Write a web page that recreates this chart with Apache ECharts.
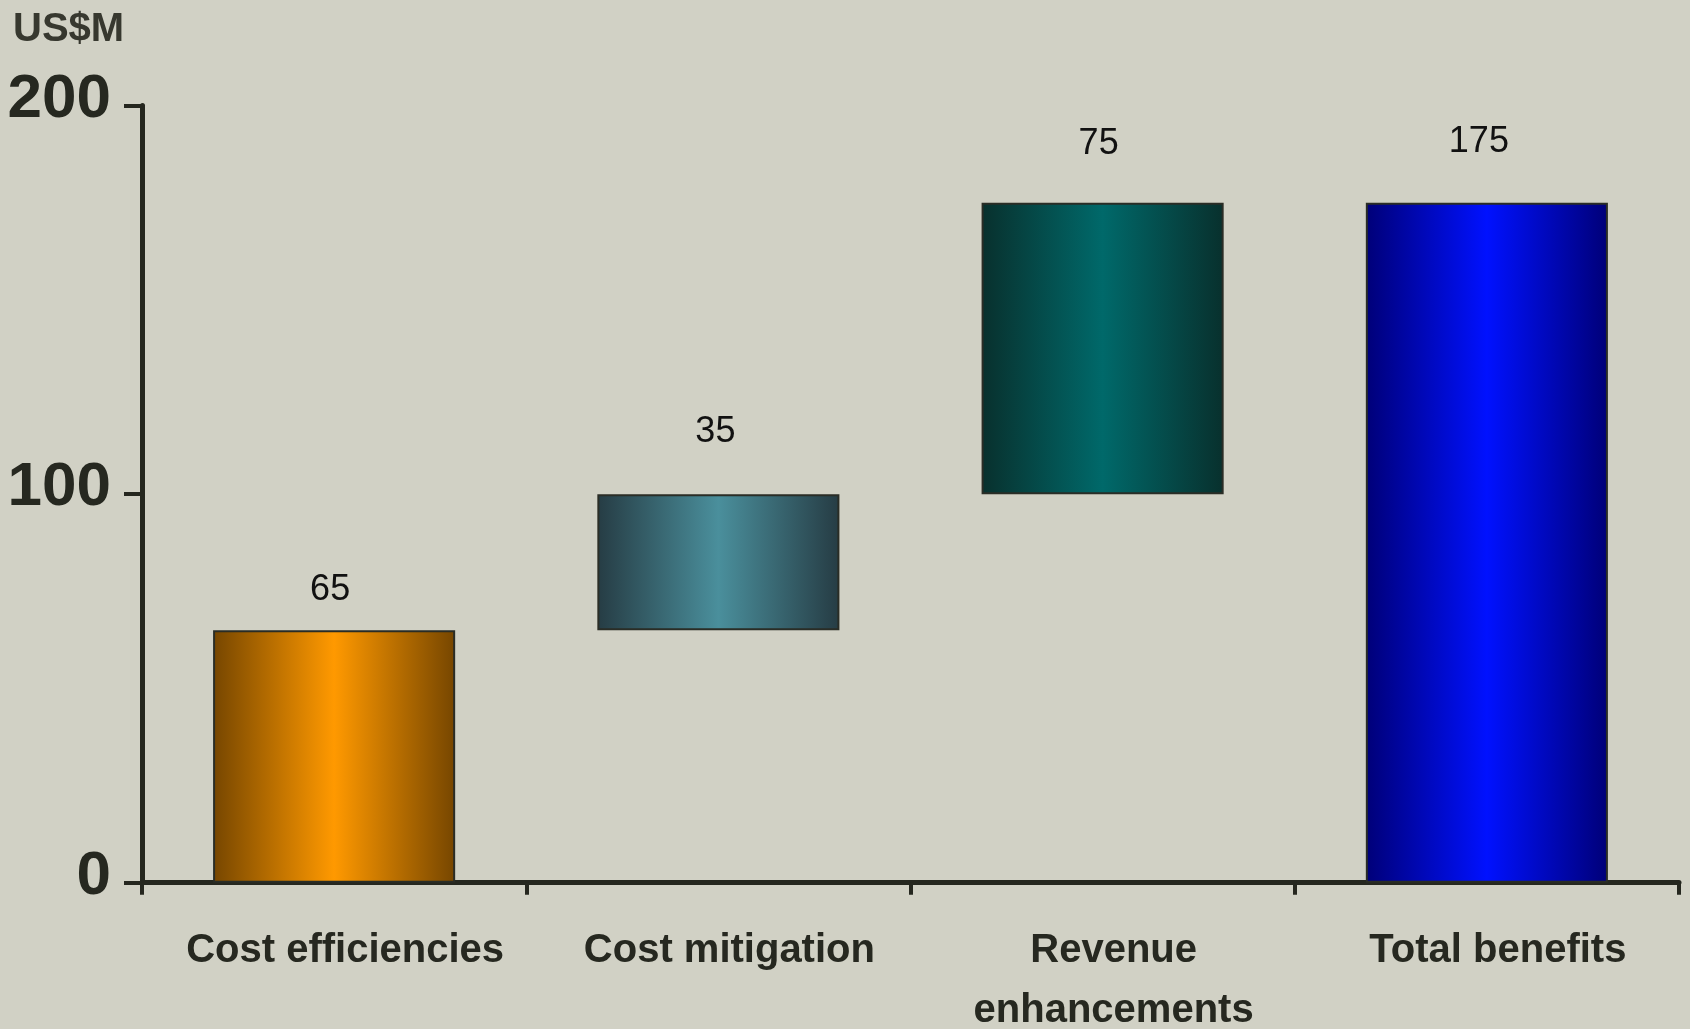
<!DOCTYPE html>
<html>
<head>
<meta charset="utf-8">
<script src="https://cdn.jsdelivr.net/npm/echarts@6/dist/echarts.min.js"></script>
<style>
html,body{margin:0;padding:0;background:#d1d1c5;}
#c{width:1690px;height:1029px;}
</style>
</head>
<body>
<div id="c"></div>
<script>
const categories = ['Cost efficiencies', 'Cost mitigation', 'Revenue\nenhancements', 'Total benefits'];
const baseValues = [0, 65, 100, 0];
const deltaValues = [65, 35, 75, 175];
const yTicks = [0, 100, 200];
const barGradients = [
  ['#764600', '#ff9900'],
  ['#263c44', '#4a8f9c'],
  ['#08302d', '#00696a'],
  ['#000078', '#0011ff']
];
const labelDistances = [22, 44, 41, 43];
const labelShifts = [-4, -3, -4, -8];

const FONT = '"Liberation Sans", Arial, sans-serif';

function grad(c) {
  return {
    type: 'linear', x: 0, y: 0, x2: 1, y2: 0,
    colorStops: [
      { offset: 0, color: c[0] },
      { offset: 0.5, color: c[1] },
      { offset: 1, color: c[0] }
    ]
  };
}

const chart = echarts.init(document.getElementById('c'), null, { renderer: 'canvas' });
chart.setOption({
  backgroundColor: '#d1d1c5',
  animation: false,
  graphic: [{
    type: 'text', left: 13, top: 10,
    style: { text: 'US$M', font: 'bold 40px ' + FONT, fill: '#37382f' }
  }],
  grid: { left: 142, right: 11, top: 105.6, bottom: 146.3, containLabel: false, outerBoundsMode: 'none' },
  xAxis: {
    type: 'category',
    data: categories,
    boundaryGap: true,
    axisLine: { lineStyle: { color: '#25271f', width: 5 } },
    axisTick: { show: true, length: 12, alignWithLabel: false, lineStyle: { color: '#25271f', width: 4 } },
    axisLabel: {
      interval: 0, margin: 38, fontFamily: FONT, fontWeight: 'bold', fontSize: 40,
      lineHeight: 60, color: '#262820', padding: [0, 0, 0, 22]
    }
  },
  yAxis: {
    type: 'value', min: 0, max: 200, interval: 100,
    splitLine: { show: false },
    axisLine: { show: true, lineStyle: { color: '#25271f', width: 5 } },
    axisTick: { show: true, length: 18, lineStyle: { color: '#25271f', width: 4 } },
    axisLabel: {
      margin: 31, fontFamily: FONT, fontWeight: 'bold', fontSize: 62, color: '#262820',
      verticalAlign: 'bottom', lineHeight: 12,
      formatter: v => yTicks.includes(v) ? String(v) : ''
    }
  },
  series: [
    {
      type: 'bar', stack: 'w', data: baseValues, barWidth: '63%',
      itemStyle: { color: 'transparent', borderWidth: 0 }, silent: true
    },
    {
      type: 'bar', stack: 'w', barWidth: '63%',
      data: deltaValues.map((v, i) => ({
        value: v,
        itemStyle: { color: grad(barGradients[i]), borderColor: '#2a2d26', borderWidth: 2 },
        label: { distance: labelDistances[i], offset: [labelShifts[i], 0] }
      })),
      label: {
        show: true, position: 'top', fontFamily: FONT, fontSize: 36, lineHeight: 36,
        color: '#111111'
      }
    }
  ]
});
</script>
</body>
</html>
